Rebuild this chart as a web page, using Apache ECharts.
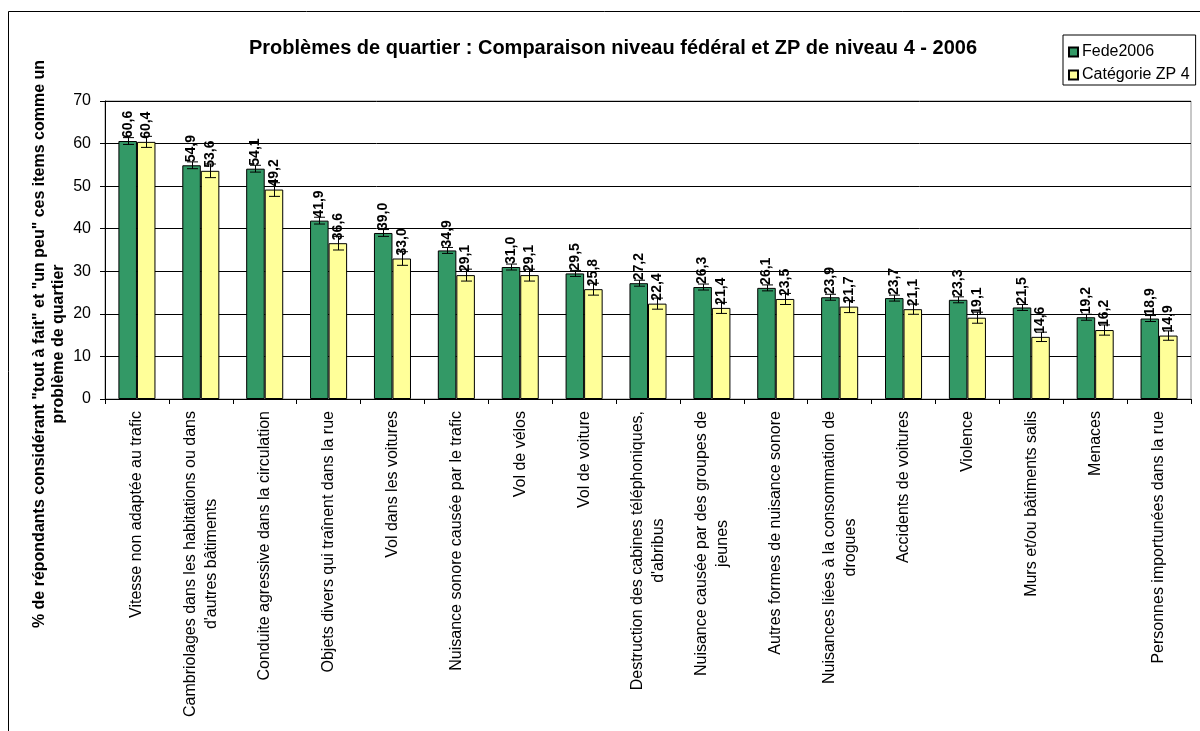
<!DOCTYPE html>
<html>
<head>
<meta charset="utf-8">
<script src="https://cdn.jsdelivr.net/npm/echarts@6/dist/echarts.min.js"></script>
<style>
html,body{margin:0;padding:0;background:#fff;}
#chart{width:1200px;height:731px;}
</style>
</head>
<body>
<div id="chart"></div>
<script>
const categories = [
  "Vitesse non adaptée au trafic",
  "Cambriolages dans les habitations ou dans\nd'autres bâtiments",
  "Conduite agressive dans la circulation",
  "Objets divers qui traînent dans la rue",
  "Vol dans les voitures",
  "Nuisance sonore causée par le trafic",
  "Vol de vélos",
  "Vol de voiture",
  "Destruction des cabines téléphoniques,\nd'abribus",
  "Nuisance causée par des groupes de\njeunes",
  "Autres formes de nuisance sonore",
  "Nuisances liées à la consommation de\ndrogues",
  "Accidents de voitures",
  "Violence",
  "Murs et/ou bâtiments salis",
  "Menaces",
  "Personnes importunées dans la rue"
];
const fede2006 = [60.6,54.9,54.1,41.9,39.0,34.9,31.0,29.5,27.2,26.3,26.1,23.9,23.7,23.3,21.5,19.2,18.9];
const zp4 = [60.4,53.6,49.2,36.6,33.0,29.1,29.1,25.8,22.4,21.4,23.5,21.7,21.1,19.1,14.6,16.2,14.9];
const fedeErr = [0.8,0.8,0.8,0.8,0.8,0.7,0.7,0.7,0.7,0.7,0.7,0.7,0.7,0.7,0.7,0.7,0.7];
const zp4Err = [1.3,1.6,1.6,1.6,1.6,1.4,1.4,1.4,1.3,1.3,1.3,1.4,1.2,1.3,1.1,1.2,1.1];
const seriesNames = ["Fede2006", "Catégorie ZP 4"];
const yTicks = [0,10,20,30,40,50,60,70];

const FONT = "'Liberation Sans', Arial, sans-serif";
const BAR_FRAC = 0.29;

const chart = echarts.init(document.getElementById('chart'), null, {renderer:'canvas'});

function fmt(v){ return v.toFixed(1).replace('.', ','); }

function errData(vals, errs){
  return vals.map((v,i)=>[i, v-errs[i], v+errs[i]]);
}
function errRenderer(sign){
  return function(params, api){
    const i = api.value(0);
    const lo = api.coord([i, api.value(1)]);
    const hi = api.coord([i, api.value(2)]);
    const band = api.size([1,0])[0];
    const bw = band*BAR_FRAC;
    const x = Math.round(lo[0] + sign*bw/2) + 0.5;
    const cap = 5.5;
    const st = {stroke:'#000', lineWidth:1};
    return {type:'group', children:[
      {type:'line', shape:{x1:x,y1:lo[1],x2:x,y2:hi[1]}, style:st},
      {type:'line', shape:{x1:x-cap,y1:lo[1],x2:x+cap,y2:lo[1]}, style:st},
      {type:'line', shape:{x1:x-cap,y1:hi[1],x2:x+cap,y2:hi[1]}, style:st}
    ]};
  };
}

const barLabel = {
  show:true, position:'top', rotate:90, align:'left', verticalAlign:'middle',
  distance:3, fontFamily:FONT, fontSize:14, fontWeight:'bold', color:'#000',
  formatter: p => fmt(p.value)
};

const option = {
  animation:false,
  backgroundColor:'#fff',
  textStyle:{fontFamily:FONT},
  title:{
    text:"Problèmes de quartier : Comparaison niveau fédéral et ZP de niveau 4 - 2006",
    left:608, top:33, textAlign:'center',
    textStyle:{fontFamily:FONT, fontSize:20, fontWeight:'bold', color:'#000'}
  },
  legend:{
    orient:'vertical', left:1063, top:35,
    borderColor:'#000', borderWidth:1, borderRadius:0,
    padding:[9,6,2,5], itemGap:7, itemWidth:9, itemHeight:9,
    icon:'rect',
    textStyle:{fontFamily:FONT, fontSize:16, color:'#000', padding:[0,0,0,-1]},
    data:seriesNames
  },
  grid:{left:105, top:101, right:9, bottom:332, show:true, borderColor:'#909090', borderWidth:1, containLabel:false},
  xAxis:{
    type:'category', data:categories,
    axisLine:{show:true, lineStyle:{color:'#000', width:1}},
    axisTick:{show:true, length:5, inside:false, lineStyle:{color:'#000'}},
    axisLabel:{
      interval:0, rotate:90, margin:12, fontFamily:FONT, fontSize:16, color:'#000', lineHeight:21,
      formatter: v => v.split('\n').map(l=>'{c|'+l+'}').join('\n'),
      rich:{c:{align:'center', fontFamily:FONT, fontSize:16, lineHeight:21, color:'#000'}}
    },
    splitLine:{show:false}
  },
  yAxis:{
    type:'value', min:0, max:70, interval:10,
    axisLine:{show:true, lineStyle:{color:'#000', width:1}},
    axisTick:{show:true, length:5, lineStyle:{color:'#000'}},
    axisLabel:{fontFamily:FONT, fontSize:16, color:'#000', margin:14,
      formatter: v => yTicks.indexOf(v) >= 0 ? String(v) : ''},
    splitLine:{show:true, lineStyle:{color:'#000', width:1}}
  },
  graphic:[
    {type:'rect', silent:true, z:-1, shape:{x:8.5, y:11.5, width:1400, height:1000},
     style:{fill:'none', stroke:'#000', lineWidth:1}},
    {type:'text', x:49, y:344, rotation:Math.PI/2,
     style:{text:'% de répondants considérant "tout à fait" et "un peu" ces items comme un\nproblème de quartier',
       align:'center', verticalAlign:'middle', fontFamily:FONT, fontSize:16, fontWeight:'bold',
       lineHeight:19, fill:'#000'}}
  ],
  series:[
    {name:seriesNames[0], type:'bar', data:fede2006, barWidth:(BAR_FRAC*100)+'%', barGap:'0%',
     itemStyle:{color:'#339966', borderColor:'#000', borderWidth:1}, label:barLabel, z:2},
    {name:seriesNames[1], type:'bar', data:zp4, barWidth:(BAR_FRAC*100)+'%', barGap:'0%',
     itemStyle:{color:'#FFFF99', borderColor:'#000', borderWidth:1}, label:barLabel, z:2},
    {name:'errFede', type:'custom', renderItem:errRenderer(-1), data:errData(fede2006, fedeErr),
     encode:{x:0, y:[1,2]}, z:3, silent:true},
    {name:'errZp', type:'custom', renderItem:errRenderer(1), data:errData(zp4, zp4Err),
     encode:{x:0, y:[1,2]}, z:3, silent:true}
  ]
};
chart.setOption(option);
</script>
</body>
</html>
